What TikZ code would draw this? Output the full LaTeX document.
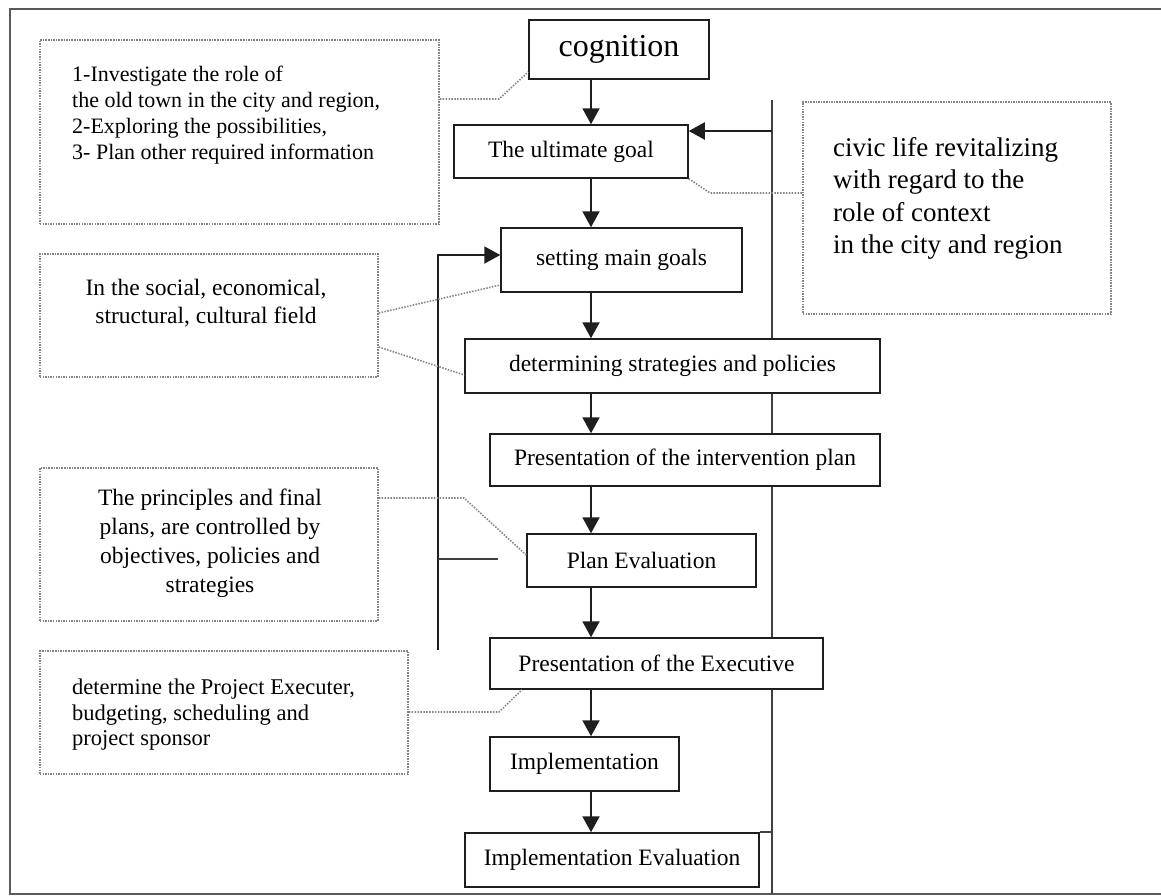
\documentclass[tikz,border=0pt]{standalone}
\usepackage{fontspec}
\setmainfont{Liberation Serif}
\usetikzlibrary{arrows.meta,calc}
\definecolor{dotgray}{HTML}{858585}
\definecolor{framegray}{HTML}{5A5A5A}
\definecolor{boxline}{HTML}{1E1E1E}
\begin{document}
\begin{tikzpicture}[x=1pt,y=-1pt,
  mainbox/.style={draw=boxline, fill=white, line width=1.5pt, rectangle, inner sep=0pt, font=\fontsize{23.5}{28}\selectfont},
  dbox/.style={draw=dotgray, line width=1.8pt, dash pattern=on 1.5pt off 1.1pt, rectangle, inner sep=0pt},
  dline/.style={draw=dotgray, line width=1.6pt, dash pattern=on 1.5pt off 1.4pt},
  arr/.style={line width=2pt, draw=boxline, -{Triangle[length=16pt,width=17pt]}},
  solidline/.style={line width=2pt, draw=boxline!85!white},
  framestyle/.style={line width=2pt, draw=framegray},
  txt/.style={inner sep=0pt}]
\useasboundingbox (0,0) rectangle (1161,895);

% outer frame
\draw[framestyle] (1161,9) -- (10,9) -- (10,894) -- (1161,894);

% right feedback line (behind the boxes)
\coordinate (rtop) at (772,100);
\coordinate (rbot) at (772,894);
\draw[solidline] (rtop) -- (rbot);

% main flow boxes
\node[mainbox, minimum width=180pt, minimum height=59pt, font=\fontsize{32}{38}\selectfont] (cog) at (619,49.5) {cognition};
\node[mainbox, minimum width=234pt, minimum height=53pt] (ult) at (571,151.5) {The ultimate goal};
\node[mainbox, minimum width=241pt, minimum height=64pt] (set) at (621.5,260) {setting main goals};
\node[mainbox, minimum width=415pt, minimum height=54pt] (det) at (672.5,366) {determining strategies and policies};
\node[mainbox, minimum width=390pt, minimum height=52pt] (pint) at (685,460) {Presentation of the intervention plan};
\node[mainbox, minimum width=229pt, minimum height=53pt] (peval) at (641.5,560.5) {Plan Evaluation};
\node[mainbox, minimum width=333pt, minimum height=51pt] (pexe) at (656.5,663.5) {Presentation of the Executive};
\node[mainbox, minimum width=189pt, minimum height=54pt] (impl) at (584.5,764) {Implementation};
\node[mainbox, minimum width=294pt, minimum height=54pt] (ieval) at (612,860) {Implementation Evaluation};

% dotted note boxes
\node[dbox, anchor=north west, minimum width=399pt, minimum height=184pt] (b1) at (39,39) {};
\node[txt, anchor=west, align=left, font=\fontsize{22}{26}\selectfont] (b1t) at (72,115.5)
  {1-Investigate the role of\\the old town in the city and region,\\2-Exploring the possibilities,\\3- Plan other required information};

\node[dbox, anchor=north west, minimum width=338pt, minimum height=123pt] (b2) at (39,253) {};
\node[txt, align=center, font=\fontsize{23.5}{28}\selectfont] (b2t) at (206,303)
  {In the social, economical,\\structural, cultural field};

\node[dbox, anchor=north west, minimum width=338pt, minimum height=153pt] (b3) at (39,467) {};
\node[txt, align=center, font=\fontsize{23.5}{29}\selectfont] (b3t) at (210,543.5)
  {The principles and final\\plans, are controlled by\\objectives, policies and\\strategies};

\node[dbox, anchor=north west, minimum width=368pt, minimum height=123pt] (b4) at (39,650) {};
\node[txt, anchor=west, align=left, font=\fontsize{22.5}{25.5}\selectfont] (b4t) at (72,715)
  {determine the Project Executer,\\budgeting, scheduling and\\project sponsor};

\node[dbox, anchor=north west, minimum width=308pt, minimum height=212pt] (rb) at (802,101) {};
\node[txt, anchor=west, align=left, font=\fontsize{27}{32.5}\selectfont] (rbt) at (833,198.5)
  {civic life revitalizing\\with regard to the\\role of context\\in the city and region};

% main arrows
\coordinate (ax) at (591,0);
\draw[arr] (cog.south -| ax) -- (ult.north -| ax);
\draw[arr] (ult.south -| ax) -- (set.north -| ax);
\draw[arr] (set.south -| ax) -- (det.north -| ax);
\draw[arr] (det.south -| ax) -- (pint.north -| ax);
\draw[arr] (pint.south -| ax) -- (peval.north -| ax);
\draw[arr] (peval.south -| ax) -- (pexe.north -| ax);
\draw[arr] (pexe.south -| ax) -- (impl.north -| ax);
\draw[arr] (impl.south -| ax) -- (ieval.north -| ax);

% right feedback arrow and link from the last box
\coordinate (rarr) at (772,131);
\draw[arr] (rarr) -- (rarr -| ult.east);
\draw[solidline] (ieval.north east) -- (ieval.north east -| rtop);

% left feedback
\coordinate (lbot) at (438,650);
\coordinate (larr) at (438,255);
\draw[arr] (lbot) -- (larr) -- (larr -| set.west);
\coordinate (stub) at (498,559);
\draw[solidline] (stub -| lbot) -- (stub);

% dotted connectors
\coordinate (c1a) at (499,99);
\coordinate (c1b) at (529,72);
\draw[dline] (c1a -| b1.east) -- (c1a) -- (c1b -| cog.west);

\coordinate (c2b) at (710,193);
\draw[dline] (ult.south east) -- (c2b) -- (c2b -| rb.west);

\coordinate (c3a) at (0,313);
\coordinate (c3b) at (0,285);
\draw[dline] (c3a -| b2.east) -- (c3b -| set.west);

\coordinate (c4a) at (0,347);
\coordinate (c4b) at (0,375);
\draw[dline] (c4a -| b2.east) -- (c4b -| det.west);

\coordinate (c5a) at (464,498);
\coordinate (c5b) at (0,555);
\draw[dline] (c5a -| b3.east) -- (c5a) -- (c5b -| peval.west);

\coordinate (c6a) at (499,712);
\coordinate (c6b) at (522,0);
\draw[dline] (c6a -| b4.east) -- (c6a) -- (c6b |- pexe.south);
\end{tikzpicture}
\end{document}
